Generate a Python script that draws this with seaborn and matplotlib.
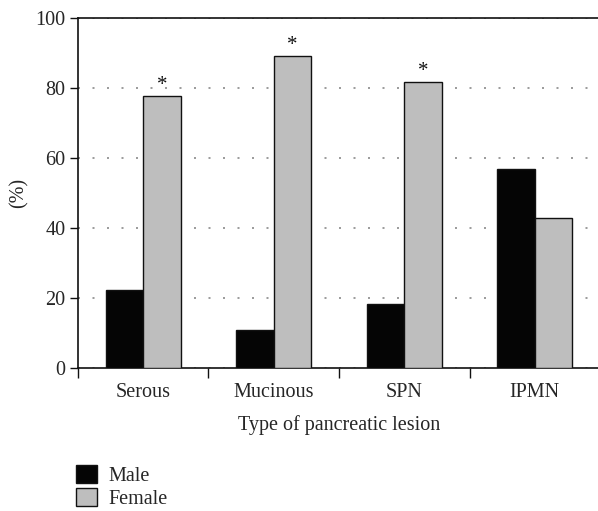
import matplotlib
matplotlib.use("Agg")
import matplotlib.pyplot as plt
import seaborn as sns
import pandas as pd
from matplotlib.patches import Patch

categories = ["Serous", "Mucinous", "SPN", "IPMN"]
male = [22.2, 10.8, 18.2, 57.0]
female = [77.8, 89.2, 81.8, 43.0]
significant = [True, True, True, False]
series = ["Male", "Female"]
colors = {"Male": "#050505", "Female": "#bebebe"}

df = pd.DataFrame({
    "Type": categories * 2,
    "Sex": ["Male"] * len(categories) + ["Female"] * len(categories),
    "Value": male + female,
})

sns.set_theme(style="white")
plt.rcParams["font.family"] = ["Liberation Serif", "DejaVu Serif"]

FS = 14.5
fig = plt.figure(figsize=(5.98, 5.11), dpi=100)
ax = fig.add_axes([0.1304, 0.2798, 0.873, 0.685])

sns.barplot(data=df, x="Type", y="Value", hue="Sex", order=categories,
            hue_order=series, palette=colors, width=0.575,
            edgecolor="#111111", linewidth=1.0, saturation=1,
            legend=False, ax=ax, zorder=3)

ax.set_ylim(0, 100)
ax.set_xlim(-0.5, len(categories) - 0.5)
ax.set_yticks([0, 20, 40, 60, 80, 100])
ax.yaxis.grid(True, linestyle=(0, (1.2, 7.5)), color="#8a8a8a", linewidth=1.2, zorder=0)
ax.set_axisbelow(True)

# asterisks above significant female bars
female_bars = ax.containers[1]
for bar, sig in zip(female_bars, significant):
    if sig:
        ax.text(bar.get_x() + bar.get_width() / 2, bar.get_height() + 0.3, "*",
                ha="center", va="bottom", fontsize=15, color="#111111")

ax.set_xticks(range(len(categories)))
ax.set_xticklabels(categories, fontsize=FS)
ax.set_xticks([i - 0.5 for i in range(len(categories) + 1)], minor=True)
ax.tick_params(axis="x", which="major", length=0, pad=11)
ax.tick_params(axis="x", which="minor", length=7, width=1, color="#111111", direction="out")
ax.tick_params(axis="y", length=6, width=1, color="#111111", direction="out", labelsize=FS, pad=3)
ax.xaxis.set_ticks_position("bottom")
ax.yaxis.set_ticks_position("left")

ax.set_xlabel("Type of pancreatic lesion", fontsize=FS, labelpad=9)
ax.set_ylabel("(%)", fontsize=FS, labelpad=5)

for side in ["left", "bottom", "top", "right"]:
    ax.spines[side].set_color("#111111")
    ax.spines[side].set_linewidth(1.2)

handles = [Patch(facecolor=colors[s], edgecolor="#111111", linewidth=1.0, label=s) for s in series]
leg = fig.legend(handles=handles, loc="upper left",
                 frameon=False, fontsize=FS, handlelength=1.05, handleheight=1.0,
                 handletextpad=0.55, labelspacing=0.12, borderaxespad=0, borderpad=0)
leg.set_bbox_to_anchor((76 / 598, 1 - 465 / 511), transform=fig.transFigure)

fig.savefig("out.png", dpi=100)
